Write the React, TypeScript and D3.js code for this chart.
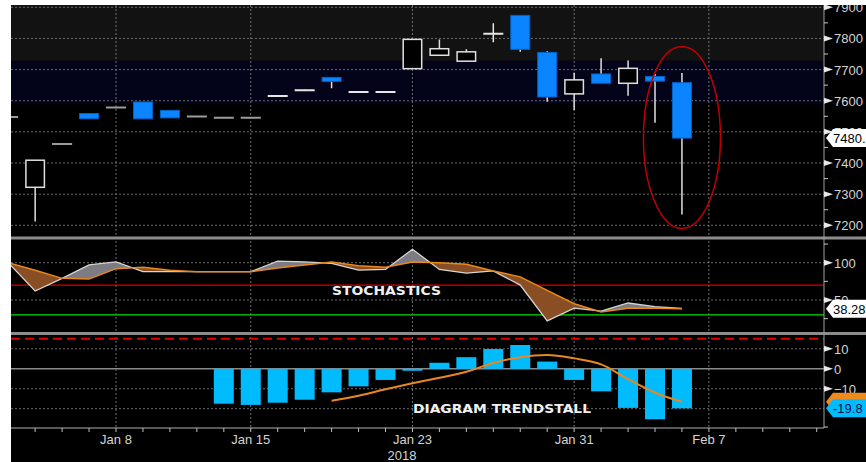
import React from "react";
import * as d3 from "d3";

// ---------- DATA ----------
const days = ["Jan 2","Jan 3","Jan 4","Jan 5","Jan 8","Jan 9","Jan 10","Jan 11","Jan 12","Jan 15","Jan 16","Jan 17","Jan 18","Jan 19","Jan 22","Jan 23","Jan 24","Jan 25","Jan 26","Jan 29","Jan 30","Jan 31","Feb 1","Feb 2","Feb 5","Feb 6","Feb 7","Feb 8","Feb 9","Feb 12","Feb 13"];
const openP  = [7549,7322,7462,7559,7579,7596,7569,7550,7546,7546,7614,7633,7675,7627,7627,7703,7746,7727,7814,7874,7755,7622,7686,7656,7678,7658];
const highP  = [7550,7409,7463,7559,7579,7596,7569,7550,7546,7546,7616,7635,7675,7629,7629,7797,7797,7765,7849,7874,7759,7690,7736,7729,7686,7689];
const lowP   = [7547,7212,7460,7542,7577,7542,7545,7548,7544,7544,7614,7633,7640,7627,7627,7703,7746,7727,7788,7757,7597,7570,7656,7616,7529,7235];
const closeP = [7548,7409,7461,7542,7578,7542,7545,7549,7545,7545,7615,7634,7662,7628,7628,7797,7767,7757,7815,7765,7612,7667,7656,7704,7663,7480];

const stochK = [100,62,79,97,101,88,88,88,88,88,102,101,99,90,91,118,91,86,89,70,22,39,35,46,41,38.6];
const stochD = [100,90,79,78,92,94,90,88,88,88,93,97,101,96,94,101,100,98,89,81,63,45,34,39,39,38.28];

const trendIdx = [8,9,10,11,12,13,14,15,16,17,18,19,20,21,22,23,24,25];
const trendVal = [-17.5,-18.1,-17.0,-15.5,-11.8,-8.8,-5.6,-1.0,3.0,5.8,9.9,11.9,3.6,-5.6,-11.3,-19.6,-25.3,-19.8];
const maIdx = [12,13,14,15,16,17,18,19,20,21,22,23,24,25];
const maVal = [-16.0,-13.5,-10.3,-7.3,-4.5,-1.5,2.9,5.8,6.9,5.2,2.2,-5.2,-12.0,-16.5];

const priceTicks = [7200,7300,7400,7500,7600,7700,7800,7900];
const priceMinor = [7250,7350,7450,7550,7650,7750,7850];
const stochTicks = [50,100];
const stochMinor = [25,75,125];
const stochLevels = { high: 70, low: 30 };
const trendTicks = [-10,0,10];
const trendGrid = [-20,-10,10];
const trendRef = 15;
const bandLevels = [7728, 7590];
const xLabels = [ {i:4,t:"Jan 8"}, {i:9,t:"Jan 15"}, {i:15,t:"Jan 23"}, {i:21,t:"Jan 31"}, {i:26,t:"Feb 7"} ];
const yearLabel = "2018";
const ellipseCenter = { i: 25, p: 7482 };

// ---------- LAYOUT ----------
const W = 866, H = 462;
const L = 11, R = 824;
const mainTop = 5, mainBot = 236.5;
const stTop = 239.5, stBot = 332;
const trTop = 335, trBot = 428;

const x = d3.scaleLinear().domain([0, 26]).range([8.2, 708.9]);
const yP = d3.scaleLinear().domain([7200, 7900]).range([225.3, 7.3]);
const yS = d3.scaleLinear().domain([50, 100]).range([300, 262.7]);
const yT = d3.scaleLinear().domain([-20, 10]).range([408.7, 348.8]);

const axisFont = "'Liberation Sans',Arial,sans-serif";
const boldFont = "'DejaVu Sans','Verdana',sans-serif";
const BW = 20;
const FS = 13;

function Tri({ y }: { y: number }) {
  return <polygon points={`${R},${y - 3} ${R + 9},${y} ${R},${y + 3}`} fill="#e8e8e8" />;
}

function Tag({ y, fill, text, textFill }: { y: number; fill: string; text: string; textFill: string }) {
  return (
    <g>
      <polygon points={`${R + 2},${y} ${R + 9},${y - 9} ${W + 4},${y - 9} ${W + 4},${y + 9} ${R + 9},${y + 9}`} fill={fill} />
      {text ? (
        <text x={R + 9} y={y + 5} fontSize={FS} fontFamily={axisFont} fill={textFill}>{text}</text>
      ) : null}
    </g>
  );
}

export default function App() {
  const idx = d3.range(openP.length);
  const kLine = d3.line<number>().x(i => x(i)).y(i => yS(stochK[i]));
  const dLine = d3.line<number>().x(i => x(i)).y(i => yS(stochD[i]));
  const between = d3.area<number>().x(i => x(i)).y0(i => yS(stochD[i])).y1(i => yS(stochK[i]));
  const aboveD = d3.area<number>().x(i => x(i)).y0(stTop - 5).y1(i => yS(stochD[i]));
  const belowD = d3.area<number>().x(i => x(i)).y0(i => yS(stochD[i])).y1(stBot + 5);
  const maLine = d3.line<number>().x((d, k) => x(maIdx[k])).y(d => yT(d)).curve(d3.curveMonotoneX);

  const majors = xLabels.map(d => d.i);
  const allDays = d3.range(days.length).filter(i => x(i) > L && x(i) <= R);

  return (
    <svg width={W} height={H} style={{ position: "absolute", left: 0, top: 0, display: "block" }}>
      <defs>
        <clipPath id="cMain"><rect x={L} y={mainTop} width={R - L} height={mainBot - mainTop} /></clipPath>
        <clipPath id="cSt"><rect x={L} y={stTop} width={R - L} height={stBot - stTop} /></clipPath>
        <clipPath id="cTr"><rect x={L} y={trTop} width={R - L} height={trBot - trTop} /></clipPath>
        <clipPath id="cAbove"><path d={aboveD(idx) || ""} /></clipPath>
        <clipPath id="cBelow"><path d={belowD(idx) || ""} /></clipPath>
      </defs>
      <rect x={0} y={0} width={W} height={H} fill="#ffffff" />
      <rect x={L} y={0} width={W - L} height={H} fill="#000000" />

      {/* main panel bands */}
      <rect x={L} y={mainTop} width={R - L} height={yP(bandLevels[0]) - mainTop} fill="#121212" />
      <rect x={L} y={yP(bandLevels[0])} width={R - L} height={yP(bandLevels[1]) - yP(bandLevels[0])} fill="#03031a" />

      {/* horizontal grid main */}
      {priceTicks.map(p => (
        <line key={p} x1={L} x2={R} y1={yP(p)} y2={yP(p)} stroke="#6a6a6a" strokeDasharray="2,2" />
      ))}
      {/* stoch grid */}
      {stochTicks.map(v => (
        <line key={v} x1={L} x2={R} y1={yS(v)} y2={yS(v)} stroke="#6a6a6a" strokeDasharray="2,2" />
      ))}
      <line x1={L} x2={R} y1={yS(stochLevels.high)} y2={yS(stochLevels.high)} stroke="#d80000" strokeWidth={1.2} />
      <line x1={L} x2={R} y1={yS(stochLevels.low)} y2={yS(stochLevels.low)} stroke="#00e000" strokeWidth={1.2} />
      {/* trend grid */}
      {trendGrid.map(v => (
        <line key={v} x1={L} x2={R} y1={yT(v)} y2={yT(v)} stroke="#6a6a6a" strokeDasharray="2,2" />
      ))}
      <line x1={L} x2={R} y1={yT(0)} y2={yT(0)} stroke="#8a8a8a" strokeWidth={1.5} />

      {/* vertical grid */}
      {majors.map(i => (
        <line key={i} x1={x(i)} x2={x(i)} y1={mainTop} y2={trBot} stroke="#707070" strokeDasharray="2,2" />
      ))}

      {/* candles */}
      <g clipPath="url(#cMain)">
        {idx.map(i => {
          const o = openP[i], c = closeP[i], h = highP[i], l = lowP[i];
          const cx = x(i);
          const up = c >= o;
          if (Math.abs(c - o) < 3) {
            const col = up ? "#e6e6e6" : "#9c9c9c";
            return (
              <g key={i}>
                <line x1={cx} x2={cx} y1={yP(h)} y2={yP(l)} stroke={col} strokeWidth={1.5} />
                <line x1={cx - BW / 2} x2={cx + BW / 2} y1={yP(c)} y2={yP(c)} stroke={col} strokeWidth={2} />
              </g>
            );
          }
          const top = yP(Math.max(o, c)), bot = yP(Math.min(o, c));
          return (
            <g key={i}>
              <line x1={cx} x2={cx} y1={yP(h)} y2={yP(l)} stroke="#e0e0e0" strokeWidth={1.5} />
              {up ? (
                <rect x={cx - BW / 2 + 0.75} y={top} width={BW - 1.5} height={bot - top} fill="#000" stroke="#e0e0e0" strokeWidth={1.5} />
              ) : (
                <rect x={cx - BW / 2 + 0.5} y={top} width={BW - 1} height={bot - top} fill="#0a85ff" stroke="#0062c8" strokeWidth={1} />
              )}
            </g>
          );
        })}
        <ellipse cx={x(ellipseCenter.i)} cy={yP(ellipseCenter.p)} rx={38.5} ry={91} fill="none" stroke="#c00000" strokeWidth={1.5} />
      </g>

      {/* stochastics */}
      <g clipPath="url(#cSt)">
        <g clipPath="url(#cAbove)">
          <path d={between(idx) || ""} fill="#7c7c82" />
        </g>
        <g clipPath="url(#cBelow)">
          <path d={between(idx) || ""} fill="#8a4e24" />
        </g>
        <path d={kLine(idx) || ""} fill="none" stroke="#d4d4d4" strokeWidth={1.3} />
        <path d={dLine(idx) || ""} fill="none" stroke="#e8881e" strokeWidth={1.5} />
      </g>
      <text x={332} y={295} fontSize={12.5} fontWeight="bold" fontFamily={boldFont} fill="#f0f0f0" textLength={109} lengthAdjust="spacingAndGlyphs">STOCHASTICS</text>

      {/* trendstall */}
      <g clipPath="url(#cTr)">
        <line x1={L} x2={R} y1={yT(trendRef)} y2={yT(trendRef)} stroke="#e00000" strokeWidth={2} strokeDasharray="9,5" />
        {trendIdx.map((i, k) => {
          const v = trendVal[k];
          const y0 = yT(0), y1 = yT(v);
          return <rect key={i} x={x(i) - BW / 2} y={Math.min(y0, y1)} width={BW} height={Math.abs(y1 - y0)} fill="#00bcff" />;
        })}
        <path d={maLine(maVal) || ""} fill="none" stroke="#e8881e" strokeWidth={2} />
      </g>
      <text x={413} y={413} fontSize={13} fontWeight="bold" fontFamily={boldFont} fill="#f0f0f0" textLength={178} lengthAdjust="spacingAndGlyphs">DIAGRAM TRENDSTALL</text>

      {/* separators */}
      <rect x={L} y={mainBot} width={W - L} height={3} fill="#8c8c8c" />
      <rect x={L} y={stBot} width={W - L} height={3} fill="#8c8c8c" />
      <line x1={L} x2={R} y1={trBot} y2={trBot} stroke="#b0b0b0" strokeWidth={1} />

      {/* right axis */}
      <line x1={R} x2={R} y1={mainTop} y2={trBot} stroke="#a0a0a0" strokeWidth={1} />
      {priceMinor.map(p => (
        <line key={p} x1={R} x2={R + 4} y1={yP(p)} y2={yP(p)} stroke="#c8c8c8" />
      ))}
      {priceTicks.map(p => (
        <g key={p}>
          <Tri y={yP(p)} />
          <text x={R + 10} y={yP(p) + 5} fontSize={FS} fontFamily={axisFont} fill="#d4d4d4">{p}</text>
        </g>
      ))}
      {stochMinor.map(v => (
        <line key={v} x1={R} x2={R + 4} y1={yS(v)} y2={yS(v)} stroke="#c8c8c8" />
      ))}
      {stochTicks.map(v => (
        <g key={v}>
          <Tri y={yS(v)} />
          <text x={R + 10} y={yS(v) + 5} fontSize={FS} fontFamily={axisFont} fill="#d4d4d4">{v}</text>
        </g>
      ))}
      {trendTicks.map(v => (
        <g key={v}>
          <Tri y={yT(v)} />
          <text x={R + 10} y={yT(v) + 5} fontSize={FS} fontFamily={axisFont} fill="#d4d4d4">{v === -10 ? "\u221210" : v}</text>
        </g>
      ))}
      <line x1={R} x2={R + 4} y1={trBot - 1} y2={trBot - 1} stroke="#c8c8c8" />

      <Tag y={yP(closeP[closeP.length - 1])} fill="#ffffff" text="7480." textFill="#000" />
      <Tag y={yS(stochD[stochD.length - 1])} fill="#ffffff" text="38.28" textFill="#000" />
      <Tag y={yT(maVal[maVal.length - 1])} fill="#f08a1c" text="" textFill="#000" />
      <Tag y={yT(trendVal[trendVal.length - 1])} fill="#00bcff" text="-19.8" textFill="#10104a" />

      {/* x axis */}
      {allDays.map(i => (
        <line key={i} x1={x(i)} x2={x(i)} y1={trBot} y2={trBot + 4} stroke="#c0c0c0" />
      ))}
      {xLabels.map(d => (
        <text key={d.t} x={x(d.i)} y={444} textAnchor="middle" fontSize={FS} fontFamily={axisFont} fill="#d4d4d4">{d.t}</text>
      ))}
      <text x={402} y={459.5} textAnchor="middle" fontSize={FS} fontFamily={axisFont} fill="#d4d4d4">{yearLabel}</text>

      {/* top white strip */}
      <rect x={0} y={0} width={W} height={5} fill="#ffffff" />
    </svg>
  );
}
